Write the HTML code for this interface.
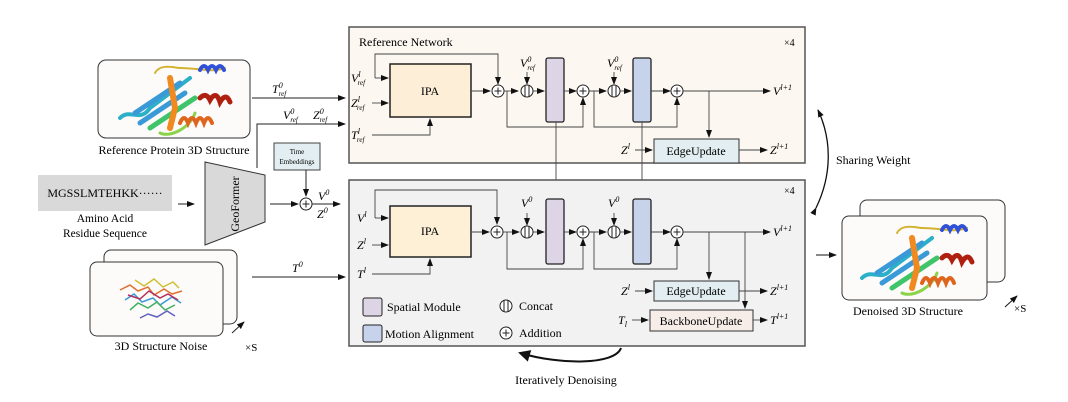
<!DOCTYPE html>
<html><head><meta charset="utf-8"><style>
html,body{margin:0;padding:0;background:#fff;}
svg{display:block;font-family:"Liberation Serif",serif;}
.i{font-style:italic;}
</style></head><body>
<svg width="1068" height="402" viewBox="0 0 1068 402" xmlns="http://www.w3.org/2000/svg">
<defs>
<marker id="a" markerWidth="8" markerHeight="8" refX="7" refY="4" orient="auto" markerUnits="userSpaceOnUse"><path d="M0,1 L8,4 L0,7 z" fill="#111"/></marker>
<marker id="b" markerWidth="12" markerHeight="12" refX="10" refY="6" orient="auto" markerUnits="userSpaceOnUse"><path d="M0,0 L12,6 L0,12 z" fill="#111"/></marker>
<g id="plus"><circle r="6" fill="#fff" stroke="#222" stroke-width="1"/><path d="M-3.5,0 H3.5 M0,-3.5 V3.5" stroke="#222" stroke-width="1"/></g>
<g id="cat"><circle r="6" fill="#fff" stroke="#222" stroke-width="1"/><path d="M-2,-5.6 V5.6 M2,-5.6 V5.6" stroke="#222" stroke-width="1"/></g>
<g id="prot" fill="none" stroke-linecap="round">
<path d="M-50,20 C-40,10 -30,25 -20,10 L20,-20" stroke="#2bb0c8" stroke-width="4"/>
<path d="M-35,15 L10,-15 M-30,25 L15,-5" stroke="#3a9ad8" stroke-width="5"/>
<path d="M-20,30 L25,0" stroke="#3fc46a" stroke-width="5"/>
<path d="M-10,35 C0,40 20,30 25,15" stroke="#8bd34a" stroke-width="3"/>
<path d="M-15,-25 C-10,-35 5,-30 10,-30 C30,-30 40,-25 55,-30" stroke="#d4b230" stroke-width="2"/>
<path d="M30,-28 q4,-8 8,0 q4,-8 8,0 q4,-8 8,0" stroke="#3050d8" stroke-width="4"/>
<path d="M0,-20 L5,10 L0,30" stroke="#f08a20" stroke-width="6"/>
<path d="M10,25 q4,-10 8,0 q4,-10 8,0 q4,-10 8,0 q4,-10 8,0" stroke="#e0651c" stroke-width="4"/>
<path d="M30,0 q6,-6 10,2 q6,-10 10,2 q6,-10 10,0" stroke="#b02010" stroke-width="5"/>
</g>
</defs>

<!-- Reference network box -->
<rect x="349" y="27" width="456" height="136" fill="#fdf7f1" stroke="#555" stroke-width="1.5"/>
<text x="359" y="46" font-size="12">Reference Network</text>
<text x="784" y="46" font-size="10">×4</text>
<rect x="390" y="64" width="81" height="53" fill="#fdefd7" stroke="#222" stroke-width="1.5"/>
<text x="430" y="95" font-size="12" text-anchor="middle">IPA</text>
<rect x="546" y="58" width="18" height="64" rx="2" fill="#ddd4e6" stroke="#222" stroke-width="1.3"/>
<rect x="633" y="58" width="18" height="64" rx="2" fill="#c6d3ea" stroke="#222" stroke-width="1.3"/>
<rect x="654" y="139" width="85" height="24" fill="#e2eef1" stroke="#333"/>
<text x="696" y="155" font-size="12" text-anchor="middle">EdgeUpdate</text>
<g stroke="#444" fill="none" stroke-width="0.9">
<path d="M375,78 V54 H498 V84" marker-end="url(#a)"/>
<path d="M375,78 H388" marker-end="url(#a)"/>
<path d="M372,103 H388" marker-end="url(#a)"/>
<path d="M372,135 H430 V119" marker-end="url(#a)"/>
<path d="M471,91 H490" marker-end="url(#a)"/>
<path d="M504,91 H518" marker-end="url(#a)"/>
<path d="M531,91 H544" marker-end="url(#a)"/>
<path d="M564,91 H576" marker-end="url(#a)"/>
<path d="M589,91 H606" marker-end="url(#a)"/>
<path d="M619,91 H631" marker-end="url(#a)"/>
<path d="M651,91 H670" marker-end="url(#a)"/>
<path d="M683,91 H770" marker-end="url(#a)"/>
<path d="M507,91 V127 H583 V98" marker-end="url(#a)"/>
<path d="M594,91 V127 H677 V98" marker-end="url(#a)"/>
<path d="M527,72 V84" marker-end="url(#a)"/>
<path d="M614,72 V84" marker-end="url(#a)"/>
<path d="M709,91 V137" marker-end="url(#a)"/>
<path d="M635,150 H652" marker-end="url(#a)"/>
<path d="M739,150 H767" marker-end="url(#a)"/>
<path d="M556,122 V197" marker-end="url(#a)"/>
<path d="M642,122 V197" marker-end="url(#a)"/>
</g>
<use href="#plus" x="498" y="91"/><use href="#cat" x="527" y="91"/><use href="#plus" x="583" y="91"/><use href="#cat" x="614" y="91"/><use href="#plus" x="677" y="91"/>
<g font-size="12" class="i">
<text x="351" y="82">V<tspan font-size="8" dy="-5">l</tspan><tspan font-size="7" dx="-3" dy="8">ref</tspan></text>
<text x="351" y="107">Z<tspan font-size="8" dy="-5">l</tspan><tspan font-size="7" dx="-3" dy="8">ref</tspan></text>
<text x="351" y="139">T<tspan font-size="8" dy="-5">l</tspan><tspan font-size="7" dx="-3" dy="8">ref</tspan></text>
<text x="520" y="67">V<tspan font-size="8" dy="-5">0</tspan><tspan font-size="7" dx="-4" dy="8">ref</tspan></text>
<text x="607" y="67">V<tspan font-size="8" dy="-5">0</tspan><tspan font-size="7" dx="-4" dy="8">ref</tspan></text>
<text x="773" y="95">V<tspan font-size="8" dy="-5">l+1</tspan></text>
<text x="621" y="154">Z<tspan font-size="8" dy="-5">l</tspan></text>
<text x="770" y="154">Z<tspan font-size="8" dy="-5">l+1</tspan></text>
</g>

<!-- Main box -->
<rect x="349" y="180" width="456" height="166" fill="#f2f2f2" stroke="#555" stroke-width="1.5"/>
<text x="784" y="194" font-size="10">×4</text>
<rect x="390" y="206" width="81" height="51" fill="#fdf0d7" stroke="#222" stroke-width="1.5"/>
<text x="430" y="235" font-size="12" text-anchor="middle">IPA</text>
<rect x="546" y="199" width="18" height="65" rx="2" fill="#ddd4e6" stroke="#222" stroke-width="1.3"/>
<rect x="633" y="199" width="18" height="65" rx="2" fill="#c6d3ea" stroke="#222" stroke-width="1.3"/>
<rect x="654" y="281" width="85" height="20" fill="#e2eef1" stroke="#333"/>
<text x="696" y="295" font-size="12" text-anchor="middle">EdgeUpdate</text>
<rect x="650" y="310" width="103" height="21" fill="#f6ede9" stroke="#333"/>
<text x="701" y="325" font-size="12" text-anchor="middle">BackboneUpdate</text>
<g stroke="#444" fill="none" stroke-width="0.9">
<path d="M375,218 V190 H497 V224" marker-end="url(#a)"/>
<path d="M375,218 H388" marker-end="url(#a)"/>
<path d="M372,245 H388" marker-end="url(#a)"/>
<path d="M372,274 H430 V259" marker-end="url(#a)"/>
<path d="M471,232 H489" marker-end="url(#a)"/>
<path d="M503,232 H519" marker-end="url(#a)"/>
<path d="M533,232 H544" marker-end="url(#a)"/>
<path d="M564,232 H576" marker-end="url(#a)"/>
<path d="M589,232 H606" marker-end="url(#a)"/>
<path d="M619,232 H631" marker-end="url(#a)"/>
<path d="M651,232 H670" marker-end="url(#a)"/>
<path d="M683,232 H770" marker-end="url(#a)"/>
<path d="M507,232 V269 H583 V239" marker-end="url(#a)"/>
<path d="M594,232 V269 H677 V239" marker-end="url(#a)"/>
<path d="M527,213 V225" marker-end="url(#a)"/>
<path d="M614,213 V225" marker-end="url(#a)"/>
<path d="M709,232 V279" marker-end="url(#a)"/>
<path d="M745,232 V308" marker-end="url(#a)"/>
<path d="M635,291 H652" marker-end="url(#a)"/>
<path d="M739,291 H767" marker-end="url(#a)"/>
<path d="M632,320 H648" marker-end="url(#a)"/>
<path d="M753,320 H767" marker-end="url(#a)"/>
</g>
<use href="#plus" x="497" y="232"/><use href="#cat" x="527" y="232"/><use href="#plus" x="583" y="232"/><use href="#cat" x="614" y="232"/><use href="#plus" x="677" y="232"/>
<g font-size="12" class="i">
<text x="357" y="222">V<tspan font-size="8" dy="-5">l</tspan></text>
<text x="357" y="249">Z<tspan font-size="8" dy="-5">l</tspan></text>
<text x="357" y="278">T<tspan font-size="8" dy="-5">l</tspan></text>
<text x="521" y="207">V<tspan font-size="8" dy="-5">0</tspan></text>
<text x="608" y="207">V<tspan font-size="8" dy="-5">0</tspan></text>
<text x="773" y="236">V<tspan font-size="8" dy="-5">l+1</tspan></text>
<text x="621" y="295">Z<tspan font-size="8" dy="-5">l</tspan></text>
<text x="770" y="295">Z<tspan font-size="8" dy="-5">l+1</tspan></text>
<text x="618" y="324">T<tspan font-size="8" dy="3">l</tspan></text>
<text x="770" y="324">T<tspan font-size="8" dy="-5">l+1</tspan></text>
</g>
<rect x="363" y="298" width="19" height="18" rx="2" fill="#ddd4e6" stroke="#222"/>
<text x="387" y="311" font-size="12">Spatial Module</text>
<rect x="363" y="325" width="19" height="17" rx="2" fill="#c6d3ea" stroke="#222"/>
<text x="385" y="338" font-size="12">Motion Alignment</text>
<use href="#cat" x="506" y="306"/><text x="519" y="310" font-size="12">Concat</text>
<use href="#plus" x="506" y="333"/><text x="519" y="337" font-size="12">Addition</text>

<path d="M621,348 C615,365 560,365 520,353" stroke="#111" stroke-width="2" fill="none" marker-end="url(#b)"/>
<text x="566" y="384" font-size="12" text-anchor="middle">Iteratively Denoising</text>

<!-- Left side -->
<rect x="98" y="60" width="152" height="78" rx="8" fill="#fdfbf9" stroke="#333"/>
<use href="#prot" x="170" y="98"/>
<text x="174" y="154" font-size="12" text-anchor="middle">Reference Protein 3D Structure</text>
<rect x="38" y="175" width="134" height="36" fill="#d9d9d9"/>
<text x="105" y="197" font-size="12" text-anchor="middle">MGSSLMTEHKK······</text>
<text x="105" y="222" font-size="11.5" text-anchor="middle">Amino Acid</text>
<text x="105" y="237" font-size="11.5" text-anchor="middle">Residue Sequence</text>
<path d="M205,162 L265,175 L265,222 L205,245 Z" fill="#d9d9d9" stroke="#333"/>
<text x="0" y="0" font-size="12" text-anchor="middle" transform="translate(239,204) rotate(-90)">GeoFormer</text>
<rect x="274" y="143" width="46" height="27" fill="#e2eef1" stroke="#444"/>
<text x="297" y="154" font-size="7" text-anchor="middle">Time</text>
<text x="297" y="164" font-size="7" text-anchor="middle">Embeddings</text>
<g stroke="#222" fill="none" stroke-width="1">
<path d="M178,204 H194" marker-end="url(#a)"/>
<path d="M270,204 H298" marker-end="url(#a)"/>
<path d="M306,170 V196" marker-end="url(#a)"/>
<path d="M312,204 H340" marker-end="url(#a)"/>
<path d="M252,98 H345" marker-end="url(#a)"/>
<path d="M257,168 V124 H345" marker-end="url(#a)"/>
<path d="M252,277 H345" marker-end="url(#a)"/>
<path d="M232,333 L244,322" marker-end="url(#a)"/>
</g>
<use href="#plus" x="306" y="204"/>
<g font-size="12" class="i">
<text x="272" y="93">T<tspan font-size="8" dy="-5">0</tspan><tspan font-size="7" dx="-4" dy="8">ref</tspan></text>
<text x="283" y="119">V<tspan font-size="8" dy="-5">0</tspan><tspan font-size="7" dx="-4" dy="8">ref</tspan></text>
<text x="313" y="119">Z<tspan font-size="8" dy="-5">0</tspan><tspan font-size="7" dx="-4" dy="8">ref</tspan></text>
<text x="318" y="200">V<tspan font-size="8" dy="-5">0</tspan></text>
<text x="317" y="218">Z<tspan font-size="8" dy="-5">0</tspan></text>
<text x="292" y="272">T<tspan font-size="8" dy="-5">0</tspan></text>
</g>
<rect x="104" y="250" width="133" height="74" rx="7" fill="#fdfbf9" stroke="#333"/>
<rect x="90" y="262" width="133" height="74" rx="7" fill="#fdfbf9" stroke="#333"/>
<g stroke-width="1.5" fill="none">
<path d="M120,290 l10,-5 l8,6 l10,-4 l6,8 l10,-6 l8,5 l10,-3" stroke="#e07030"/>
<path d="M125,300 l9,-6 l8,8 l11,-4 l7,7 l12,-8 l9,6" stroke="#3a9ad8"/>
<path d="M130,310 l8,-7 l10,5 l9,-6 l8,8 l10,-5" stroke="#40b060"/>
<path d="M135,280 l9,6 l10,-7 l9,8 l10,-5 l6,6" stroke="#d0c030"/>
<path d="M128,295 l12,4 l9,-8 l11,7 l8,-4 l10,6" stroke="#b03060"/>
<path d="M140,318 l8,-4 l9,3 l10,-6 l8,5" stroke="#6060c0"/>
</g>
<text x="161" y="350" font-size="12" text-anchor="middle">3D Structure Noise</text>
<text x="245" y="351" font-size="11">×S</text>

<!-- Right side -->
<path d="M816,208 C832,175 832,140 818,110" stroke="#111" stroke-width="1.3" fill="none" marker-start="url(#a)" marker-end="url(#a)"/>
<text x="836" y="164" font-size="12">Sharing Weight</text>
<path d="M816,255 H836" stroke="#111" stroke-width="1" marker-end="url(#a)"/>
<rect x="860" y="200" width="145" height="82" rx="7" fill="#fdfbf9" stroke="#333"/>
<rect x="842" y="216" width="145" height="84" rx="7" fill="#fdfbf9" stroke="#333"/>
<use href="#prot" x="912" y="258"/>
<text x="908" y="315" font-size="12" text-anchor="middle">Denoised 3D Structure</text>
<path d="M1005,307 L1017,296" stroke="#111" stroke-width="1" marker-end="url(#a)"/>
<text x="1014" y="312" font-size="11">×S</text>
</svg>
</body></html>
